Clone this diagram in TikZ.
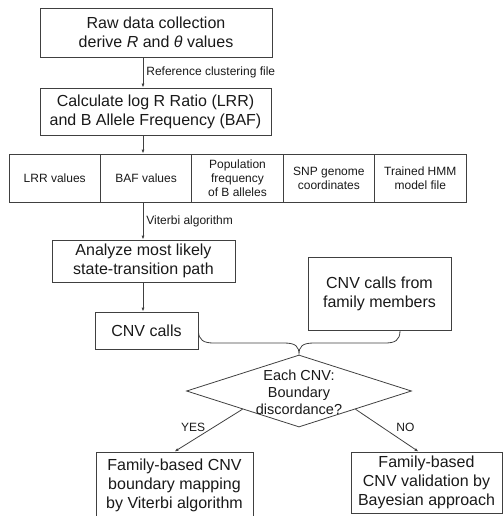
\documentclass[tikz,border=0pt]{standalone}
\usepackage{fontspec}
\setmainfont{Liberation Sans}
\usepackage{tikz}
\usetikzlibrary{shapes.geometric}
\usetikzlibrary{positioning}
\usetikzlibrary{arrows.meta}

\begin{document}
\begin{tikzpicture}[x=1pt,y=-1pt,
       box/.style={draw=black!75,line width=0.8pt,rectangle,align=center,inner sep=0pt,text=black!90,font=\fontsize{16}{19}\selectfont},
       cell/.style={draw=black!75,line width=0.8pt,rectangle,align=center,inner sep=0pt,minimum width=91.4pt,minimum height=48pt,text=black!90,font=\fontsize{12}{14}\selectfont},
       lbl/.style={inner sep=3pt,text=black!90,font=\fontsize{12}{14}\selectfont},
       flow/.style={draw=black!75,line width=0.8pt,-{Latex[length=4pt,width=3pt]}},
       link/.style={draw=black!75,line width=0.8pt}]
       \useasboundingbox (0,0) rectangle (503,516);
       \node[box,minimum width=232pt,minimum height=49pt] (raw) at (156,32.5) {Raw data collection\\derive \textit{R} and \textit{θ} values};
       \node[box,minimum width=231pt,minimum height=47pt] (lrr) at (155.5,111.5) {Calculate log R Ratio (LRR)\\and B Allele Frequency (BAF)};
       \node[cell] (lrrval) at (54.7,178) {LRR values};
       \node[cell] (bafval) at (146.1,178) {BAF values};
       \node[cell] (popfreq) at (237.5,178) {Population\\frequency\\of B alleles};
       \node[cell] (snp) at (328.9,178) {SNP genome\\coordinates};
       \node[cell] (hmm) at (420.3,178) {Trained HMM\\model file};
       \node[box,minimum width=183pt,minimum height=42pt] (path) at (143.5,261) {Analyze most likely\\state-transition path};
       \node[box,minimum width=103pt,minimum height=37pt] (cnv) at (146.5,330.5) {CNV calls};
       \node[box,minimum width=143pt,minimum height=73pt] (famcnv) at (379.5,293.5) {CNV calls from\\family members};
       \node[link,diamond,minimum width=225pt,minimum height=72pt,inner sep=0pt] (check) at (299,391) {};
       \node[align=center,text=black!90,font=\fontsize{14.5}{17}\selectfont] (checktxt) at (299,392) {Each CNV:\\Boundary\\discordance?};
       \node[box,minimum width=157pt,minimum height=67pt] (viterbi) at (174.5,485.5) {Family-based CNV\\boundary mapping\\by Viterbi algorithm};
       \node[box,minimum width=151pt,minimum height=61pt] (bayes) at (426.5,482.5) {Family-based\\CNV validation by\\Bayesian approach};
       %\draw[dashed] (0,0) -- (503,0);
       \coordinate (spine) at (143,0);
       \draw[flow] (raw.south -| spine) -- (lrr.north -| spine) node[midway,right,lbl] {Reference clustering file};
       \draw[flow] (lrr.south -| spine) -- (bafval.north -| spine);
       \draw[flow] (bafval.south -| spine) -- (path.north -| spine) node[midway,right,lbl] {Viterbi algorithm};
       \draw[flow] (path.south -| spine) -- (cnv.north -| spine);
       \coordinate (braceend) at (400,330.5);
       \draw[link] (cnv.east) .. controls +(0,10) and +(-10,0) .. (214,343) -- (284,343) .. controls +(12,0) and +(0,-8) .. (check.north) .. controls +(0,-8) and +(-12,0) .. (314,343) -- (385,343) .. controls +(10,0) and +(0,10) .. (braceend);
       \draw[flow] (check.south west) -- (viterbi.north) node[midway,left,lbl,yshift=3pt] {YES};
       \draw[flow] (check.south east) -- ([xshift=-8pt]bayes.north) node[midway,right,lbl,yshift=3pt,xshift=6pt] {NO};
\end{tikzpicture}
\end{document}
